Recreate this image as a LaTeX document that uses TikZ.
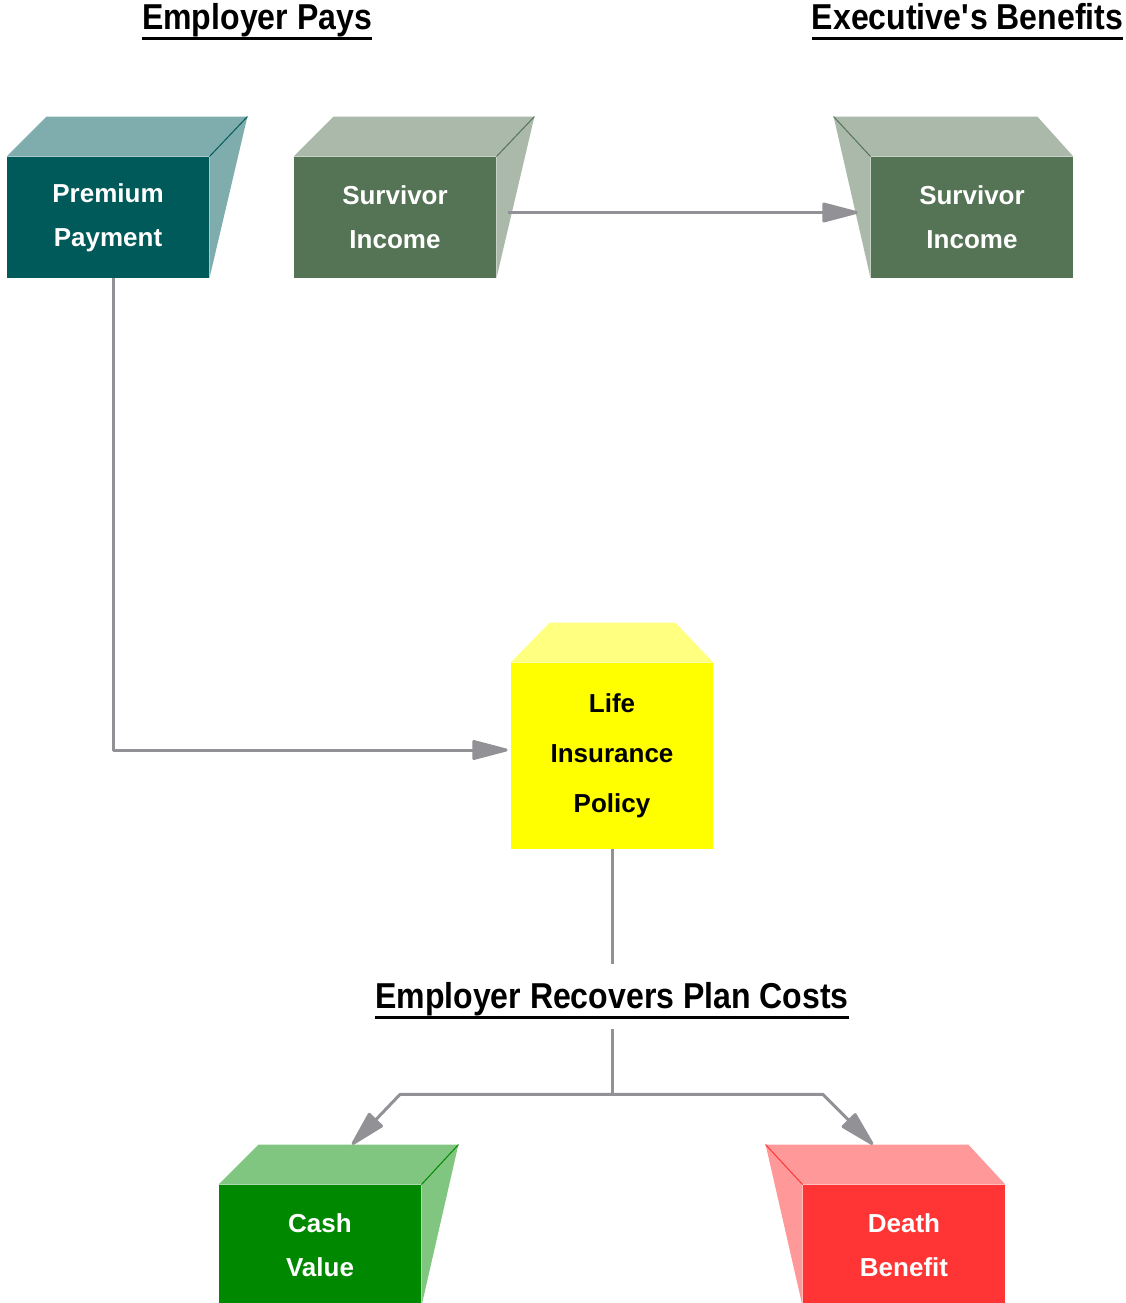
\documentclass[tikz,border=0pt]{standalone}
\usepackage{fontspec}
\setmainfont{Liberation Sans}
\newfontfamily\headfont[FakeStretch=0.89]{Liberation Sans}
\usetikzlibrary{arrows.meta,positioning,calc}

\definecolor{tealdark}{RGB}{0,90,90}
\definecolor{teallight}{RGB}{127,172,172}
\definecolor{sagedark}{RGB}{85,115,85}
\definecolor{sagelight}{RGB}{170,185,170}
\definecolor{lemon}{RGB}{255,255,0}
\definecolor{lemonlight}{RGB}{255,255,128}
\definecolor{leafdark}{RGB}{0,136,0}
\definecolor{leaflight}{RGB}{128,198,128}
\definecolor{rosedark}{RGB}{255,53,53}
\definecolor{roselight}{RGB}{255,153,153}
\definecolor{wire}{RGB}{145,145,150}

\newsavebox{\headbox}
\newcommand{\ulhead}[1]{\sbox{\headbox}{#1}\rlap{\rule[-5.5pt]{\wd\headbox}{1.5pt}}\usebox{\headbox}}

\begin{document}
\begin{tikzpicture}[x=0.5pt,y=-0.5pt,on grid,
  block/.style={rectangle,minimum width=101pt,minimum height=60.5pt,inner sep=0pt,
    text=white,align=center,font=\fontsize{13}{22}\selectfont\bfseries},
  heading/.style={anchor=base,inner sep=0pt,font=\headfont\fontsize{18}{21}\selectfont\bfseries},
  edgeline/.style={line width=0.5pt},
  conn/.style={draw=wire,line width=1.5pt,line join=round},
  flow/.style={conn,-{Triangle[length=20pt,width=10pt,round]}}]
  \useasboundingbox (0,0) rectangle (1126,1303);

  \node[heading] (pays) at (257,29) {\ulhead{Employer Pays}};
  \node[heading] (gets) at (967.5,29) {\ulhead{Executive\textquotesingle s Benefits}};

  \node[block,fill=tealdark] (prem) at (108,217.5) {Premium\\Payment};
  \node[block,fill=sagedark] (surv) [right=143.5pt of prem] {Survivor\\Income};
  \node[block,fill=sagedark] (benef) [right=288.5pt of surv] {Survivor\\Income};
  \node[block,fill=lemon,text=black,minimum height=93pt,
    font=\fontsize{13}{25}\selectfont\bfseries] (pol) at (612,756) {Life\\Insurance\\Policy};
  \node[heading,text height=22pt,text depth=10.5pt] (recov) at (612,1008)
    {\ulhead{Employer Recovers Plan Costs}};
  \node[block,fill=leafdark] (cash) at (320,1245.5) {Cash\\Value};
  \node[block,fill=rosedark] (death) [right=292pt of cash] {Death\\Benefit};

  % box faces
  \fill[teallight] (prem.north west) -- ++(40,-40) -- ($(prem.north east)+(38,-40)$) -- (prem.north east) -- cycle;
  \fill[teallight] (prem.north east) -- ++(38,-40) -- (prem.south east) -- cycle;
  \draw[edgeline,tealdark] (prem.north east) -- ++(38,-40);

  \fill[sagelight] (surv.north west) -- ++(40,-40) -- ($(surv.north east)+(38,-40)$) -- (surv.north east) -- cycle;
  \fill[sagelight] (surv.north east) -- ++(38,-40) -- (surv.south east) -- cycle;
  \draw[edgeline,sagedark] (surv.north east) -- ++(38,-40);

  \fill[sagelight] (benef.north east) -- ++(-36,-40) -- ($(benef.north west)+(-37,-40)$) -- (benef.north west) -- cycle;
  \fill[sagelight] (benef.north west) -- ++(-37,-40) -- (benef.south west) -- cycle;
  \draw[edgeline,sagedark] (benef.north west) -- ++(-37,-40);

  \fill[lemonlight] (pol.north west) -- ++(39,-40) -- ($(pol.north east)+(-38,-40)$) -- (pol.north east) -- cycle;

  \fill[leaflight] (cash.north west) -- ++(40,-40) -- ($(cash.north east)+(37,-40)$) -- (cash.north east) -- cycle;
  \fill[leaflight] (cash.north east) -- ++(37,-40) -- (cash.south east) -- cycle;
  \draw[edgeline,leafdark] (cash.north east) -- ++(37,-40);

  \fill[roselight] (death.north east) -- ++(-37,-40) -- ($(death.north west)+(-37,-40)$) -- (death.north west) -- cycle;
  \fill[roselight] (death.north west) -- ++(-37,-40) -- (death.south west) -- cycle;
  \draw[edgeline,rosedark] (death.north west) -- ++(-37,-40);

  % connectors
  \draw[flow] ([xshift=2.5pt]prem.south) |- ([shift={(-3,-6)}]pol.west);
  \draw[flow] ([shift={(12,-5)}]surv.east) -- ([shift={(-13,-5)}]benef.west);
  \draw[conn] (pol.south) -- (recov.north);
  \draw[conn] (recov.south) -- ++(0,65) coordinate (fork);
  \draw[flow] (fork) -- ++(-212,0) -- ([shift={(32,-40)}]cash.north);
  \draw[flow] (fork) -- ++(211,0) -- ([shift={(-31,-40)}]death.north);
\end{tikzpicture}
\end{document}
